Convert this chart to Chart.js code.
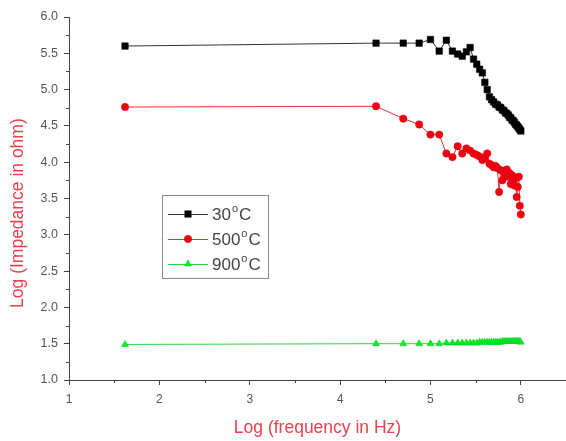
<!DOCTYPE html>
<html>
<head>
<meta charset="utf-8">
<script src="https://cdn.jsdelivr.net/npm/chart.js@4.4.1/dist/chart.umd.min.js"></script>
<style>
html,body{margin:0;padding:0;background:#fff;}
#wrap{width:566px;height:441px;position:relative;}
</style>
</head>
<body>
<div id="wrap"><canvas id="c" width="566" height="441"></canvas></div>
<script>
// Log (frequency in Hz) values
const logFreq = [1.62, 4.398, 4.699, 4.875, 5.000, 5.097, 5.176, 5.243, 5.301, 5.352, 5.398,
  5.439, 5.477, 5.512, 5.544, 5.574, 5.602, 5.628, 5.653, 5.677, 5.699,
  5.720, 5.740, 5.760, 5.778, 5.796, 5.813, 5.829, 5.845, 5.861, 5.875,
  5.889, 5.903, 5.916, 5.929, 5.942, 5.954, 5.966, 5.978, 5.989, 6.000];
// Log (Impedance in ohm) per temperature
const imp30 = [5.60, 5.64, 5.64, 5.64, 5.69, 5.53, 5.68, 5.53, 5.49, 5.46, 5.52,
  5.58, 5.42, 5.35, 5.28, 5.23, 5.10, 5.00, 4.90, 4.86, 4.83,
  4.80, 4.79, 4.76, 4.75, 4.72, 4.71, 4.68, 4.67, 4.65, 4.62,
  4.61, 4.58, 4.57, 4.55, 4.52, 4.51, 4.49, 4.47, 4.45, 4.43];
const imp500 = [4.76, 4.77, 4.60, 4.52, 4.38, 4.38, 4.12, 4.07, 4.22, 4.12, 4.19,
  4.16, 4.12, 4.10, 4.08, 4.03, 4.06, 4.12, 3.98, 3.96, 3.93,
  3.95, 3.92, 3.59, 3.89, 3.75, 3.88, 3.82, 3.90, 3.80, 3.85,
  3.70, 3.82, 3.75, 3.68, 3.78, 3.52, 3.66, 3.80, 3.40, 3.28];
const imp900 = [1.49, 1.50, 1.50, 1.50, 1.50, 1.50, 1.51, 1.51, 1.51, 1.51, 1.51,
  1.51, 1.51, 1.51, 1.52, 1.52, 1.52, 1.52, 1.52, 1.52, 1.52,
  1.52, 1.52, 1.52, 1.52, 1.53, 1.53, 1.53, 1.53, 1.53, 1.53,
  1.53, 1.53, 1.53, 1.53, 1.53, 1.53, 1.53, 1.53, 1.53, 1.52];
const seriesNames = ['30', '500', '900'];
const xTickValues = [1, 2, 3, 4, 5, 6];

const toPts = (ys) => logFreq.map((x, i) => ({x: x, y: ys[i]}));

const axisColor = '#444';
const labelColor = '#555';
const titleColor = '#e8414e';
const FONT = 'Arial, "Liberation Sans", sans-serif';

const minorTicks = {
  id: 'minorTicks',
  afterDraw(chart) {
    const ctx = chart.ctx;
    const xs = chart.scales.x, ys = chart.scales.y;
    ctx.save();
    ctx.strokeStyle = axisColor;
    ctx.lineWidth = 1;
    ctx.beginPath();
    for (let v = 1.5; v < 6.5; v += 1) {
      const px = Math.round(xs.getPixelForValue(v)) + 0.5;
      ctx.moveTo(px, xs.top); ctx.lineTo(px, xs.top + 3);
    }
    for (let v = 1.25; v < 6; v += 0.5) {
      const py = Math.round(ys.getPixelForValue(v)) + 0.5;
      ctx.moveTo(ys.right, py); ctx.lineTo(ys.right - 3, py);
    }
    ctx.stroke();
    ctx.restore();
  }
};

const boxLegend = {
  id: 'boxLegend',
  afterDraw(chart) {
    const ctx = chart.ctx;
    const bx = 162, by = 195, bw = 106, bh = 83;
    ctx.save();
    ctx.strokeStyle = '#888';
    ctx.lineWidth = 1;
    ctx.strokeRect(bx + 0.5, by + 0.5, bw, bh);
    const rows = [214, 239, 264];
    chart.data.datasets.forEach((ds, i) => {
      const y = rows[i];
      ctx.strokeStyle = ds.borderColor;
      ctx.lineWidth = 1;
      ctx.beginPath(); ctx.moveTo(168, y + 0.5); ctx.lineTo(208, y + 0.5); ctx.stroke();
      ctx.fillStyle = ds.pointBackgroundColor;
      ctx.strokeStyle = ds.pointBorderColor;
      ctx.lineWidth = 0.5;
      Chart.helpers.drawPoint(ctx, {
        pointStyle: ds.pointStyle, radius: ds.pointRadius, borderWidth: 0.5, rotation: 0
      }, 188, y);
      // text
      ctx.fillStyle = '#444';
      ctx.textBaseline = 'middle';
      ctx.font = '17px ' + FONT;
      let tx = 212;
      const num = seriesNames[i];
      ctx.fillText(num, tx, y + 1);
      tx += ctx.measureText(num).width + 1;
      ctx.font = '11px ' + FONT;
      ctx.fillText('o', tx, y - 5);
      tx += ctx.measureText('o').width + 1;
      ctx.font = '17px ' + FONT;
      ctx.fillText('C', tx, y + 1);
    });
    ctx.restore();
  }
};

new Chart(document.getElementById('c'), {
  type: 'scatter',
  data: {
    datasets: [
      {label: '30°C', data: toPts(imp30), showLine: true,
       borderColor: '#333', borderWidth: 1,
       pointStyle: 'rect', pointRadius: 4.6, pointBackgroundColor: '#000', pointBorderColor: '#000', pointBorderWidth: 0.5},
      {label: '500°C', data: toPts(imp500), showLine: true,
       borderColor: '#e83030', borderWidth: 1,
       pointStyle: 'circle', pointRadius: 3.7, pointBackgroundColor: '#f00010', pointBorderColor: '#d00010', pointBorderWidth: 0.5},
      {label: '900°C', data: toPts(imp900), showLine: true,
       borderColor: '#30d040', borderWidth: 1,
       pointStyle: 'triangle', pointRadius: 4, pointBackgroundColor: '#00ee22', pointBorderColor: '#00cc22', pointBorderWidth: 0.5}
    ]
  },
  options: {
    responsive: false,
    animation: false,
    devicePixelRatio: 1,
    layout: {autoPadding: false, padding: {top: 17, right: 0, left: 0, bottom: 0}},
    plugins: {legend: {display: false}, tooltip: {enabled: false}},
    scales: {
      x: {
        type: 'linear', min: 1, max: 6.5,
        afterBuildTicks: (s) => { s.ticks = xTickValues.map(v => ({value: v})); },
        afterFit: (s) => { s.height = 61; s.paddingRight = 0; s.paddingLeft = 0; },
        border: {display: true, color: axisColor, width: 1},
        grid: {display: true, drawOnChartArea: false, drawTicks: true, tickLength: 5, color: axisColor},
        ticks: {color: labelColor, font: {size: 12, family: FONT}, padding: 7,
                callback: (v) => String(v)},
        title: {display: true, text: 'Log (frequency in Hz)', color: titleColor,
                font: {size: 17.5, family: FONT}, padding: {top: 0, bottom: 2}}
      },
      y: {
        type: 'linear', min: 1, max: 6,
        afterFit: (s) => { s.width = 69; s.paddingTop = 0; s.paddingBottom = 0; },
        border: {display: true, color: axisColor, width: 1},
        grid: {display: true, drawOnChartArea: false, drawTicks: true, tickLength: 5, color: axisColor},
        ticks: {stepSize: 0.5, color: labelColor, font: {size: 12.5, family: FONT}, padding: 6,
                callback: (v) => Number(v).toFixed(1)},
        title: {display: true, text: 'Log (Impedance in ohm)      ', color: titleColor,
                font: {size: 17.5, family: FONT}, padding: {top: 8, bottom: 0}}
      }
    }
  },
  plugins: [minorTicks, boxLegend]
});
</script>
</body>
</html>
